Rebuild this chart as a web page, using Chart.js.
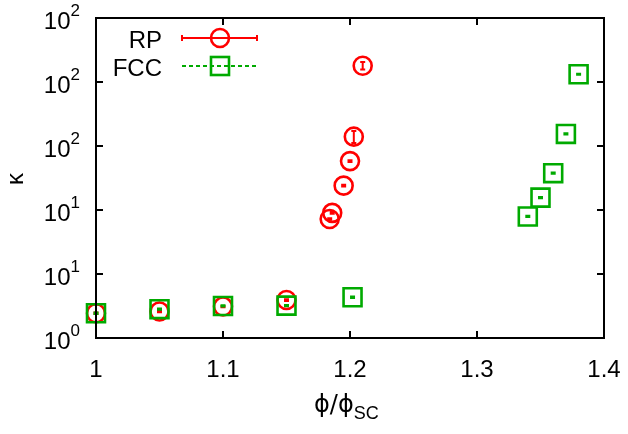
<!DOCTYPE html>
<html>
<head>
<meta charset="utf-8">
<script src="https://cdn.jsdelivr.net/npm/chart.js@4.4.0/dist/chart.umd.min.js"></script>
<style>
  html, body { margin: 0; padding: 0; background: #ffffff; }
  #wrap { width: 628px; height: 434px; }
</style>
</head>
<body>
<div id="wrap"><canvas id="chart" width="628" height="434"></canvas></div>
<script>
// RP data
const rpX = [1.0, 1.05, 1.1, 1.15, 1.184, 1.186, 1.195, 1.2, 1.203, 1.21];
const rpY = [1.56, 1.61, 1.76, 1.98, 8.5, 9.5, 15.5, 24.1, 37.4, 134];
const rpErr = [0.02, 0.02, 0.02, 0.03, 0.12, 0.15, 0.25, 0.4, 4, 9];

// FCC data
const fccX = [1.0, 1.05, 1.1, 1.15, 1.202, 1.34, 1.35, 1.36, 1.37, 1.38];
const fccY = [1.56, 1.68, 1.78, 1.79, 2.08, 8.9, 12.5, 19.4, 39.3, 115];
const fccErr = [0.02, 0.02, 0.02, 0.02, 0.03, 0.1, 0.15, 0.2, 0.4, 1.2];

// axes
const xTicks = [1, 1.1, 1.2, 1.3, 1.4];
const xTickLabels = ['1', '1.1', '1.2', '1.3', '1.4'];
const yTicks = [1, 3.1623, 10, 31.623, 100, 316.23];
const yTickExp = ['0', '1', '1', '2', '2', '2'];

const RED = '#ff0000';
const GREEN = '#00aa00';
const FONT = '"Liberation Sans", Arial, sans-serif';

function toPoints(xs, ys) {
  return xs.map((x, i) => ({ x: x, y: ys[i] }));
}

const errs = [rpErr, fccErr];
const colors = [RED, GREEN];

// error bars, frame, ticks, labels and legend
const gnuplotLook = {
  id: 'gnuplotLook',
  afterDatasetDraw(chart, args) {
    const ctx = chart.ctx;
    const xs = chart.scales.x, ys = chart.scales.y;
    const ds = chart.data.datasets[args.index];
    const err = errs[args.index];
    ctx.save();
    ctx.strokeStyle = colors[args.index];
    ctx.lineWidth = 2;
    ds.data.forEach((p, i) => {
      const px = xs.getPixelForValue(p.x);
      const y1 = ys.getPixelForValue(p.y - err[i]);
      const y2 = ys.getPixelForValue(p.y + err[i]);
      ctx.beginPath();
      ctx.moveTo(px, y1); ctx.lineTo(px, y2);
      ctx.moveTo(px - 2.5, y1); ctx.lineTo(px + 2.5, y1);
      ctx.moveTo(px - 2.5, y2); ctx.lineTo(px + 2.5, y2);
      ctx.stroke();
    });
    ctx.restore();
  },
  afterDraw(chart) {
    const ctx = chart.ctx;
    const a = chart.chartArea;
    const xs = chart.scales.x, ys = chart.scales.y;
    ctx.save();
    ctx.strokeStyle = '#000';
    ctx.lineWidth = 2;
    ctx.strokeRect(a.left, a.top, a.right - a.left, a.bottom - a.top);

    // ticks, mirrored on all sides
    const tl = 7;
    ctx.beginPath();
    xTicks.forEach(v => {
      const px = xs.getPixelForValue(v);
      ctx.moveTo(px, a.bottom); ctx.lineTo(px, a.bottom - tl);
      ctx.moveTo(px, a.top); ctx.lineTo(px, a.top + tl);
    });
    yTicks.forEach(v => {
      const py = ys.getPixelForValue(v);
      ctx.moveTo(a.left, py); ctx.lineTo(a.left + tl, py);
      ctx.moveTo(a.right, py); ctx.lineTo(a.right - tl, py);
    });
    ctx.stroke();

    ctx.fillStyle = '#000';
    // x tick labels
    ctx.font = '24px ' + FONT;
    ctx.textAlign = 'center';
    ctx.textBaseline = 'alphabetic';
    xTicks.forEach((v, i) => {
      ctx.fillText(xTickLabels[i], xs.getPixelForValue(v), 377);
    });

    // y tick labels 10^n
    yTicks.forEach((v, i) => {
      const py = ys.getPixelForValue(v);
      ctx.font = '17px ' + FONT;
      const ew = ctx.measureText(yTickExp[i]).width;
      ctx.textAlign = 'left';
      ctx.fillText(yTickExp[i], 80 - ew, py - 2);
      ctx.font = '24px ' + FONT;
      ctx.textAlign = 'right';
      ctx.fillText('10', 80 - ew, py + 11);
    });

    // axis titles
    ctx.font = '24px "DejaVu Sans", ' + FONT;
    ctx.textAlign = 'left';
    const t1 = 'ϕ/ϕ';
    const w1 = ctx.measureText(t1).width;
    ctx.fillText(t1, 314, 412);
    ctx.font = '18px ' + FONT;
    ctx.fillText('SC', 314 + w1, 419);

    ctx.save();
    ctx.translate(23, 179);
    ctx.rotate(-Math.PI / 2);
    ctx.font = '24px ' + FONT;
    ctx.textAlign = 'center';
    ctx.textBaseline = 'alphabetic';
    ctx.fillText('κ', 0, 0);
    ctx.restore();

    // legend
    ctx.font = '24px ' + FONT;
    ctx.textAlign = 'right';
    ctx.fillText(chart.data.datasets[0].label, 162, 48);
    ctx.fillText(chart.data.datasets[1].label, 162, 76);

    ctx.lineWidth = 2;
    ctx.strokeStyle = RED;
    ctx.beginPath();
    ctx.moveTo(182, 38); ctx.lineTo(257, 38);
    ctx.moveTo(182, 35); ctx.lineTo(182, 41);
    ctx.moveTo(257, 35); ctx.lineTo(257, 41);
    ctx.stroke();
    ctx.lineWidth = 2.6;
    ctx.beginPath();
    ctx.arc(220, 38, 9, 0, Math.PI * 2);
    ctx.stroke();

    ctx.strokeStyle = GREEN;
    ctx.lineWidth = 2;
    ctx.setLineDash([4, 3]);
    ctx.beginPath();
    ctx.moveTo(182, 66); ctx.lineTo(257, 66);
    ctx.stroke();
    ctx.setLineDash([]);
    ctx.lineWidth = 2.6;
    ctx.strokeRect(211, 57, 18, 18);
    ctx.restore();
  }
};

new Chart(document.getElementById('chart'), {
  type: 'scatter',
  data: {
    datasets: [
      {
        label: 'RP',
        data: toPoints(rpX, rpY),
        order: 1,
        clip: false,
        showLine: false,
        pointStyle: 'circle',
        pointRadius: 9,
        pointBorderWidth: 2.6,
        borderColor: RED,
        backgroundColor: 'rgba(0,0,0,0)',
        pointBackgroundColor: 'rgba(0,0,0,0)'
      },
      {
        label: 'FCC',
        data: toPoints(fccX, fccY),
        order: 0,
        clip: false,
        showLine: false,
        pointStyle: 'rect',
        pointRadius: 12.7,
        pointBorderWidth: 2.6,
        borderColor: GREEN,
        backgroundColor: 'rgba(0,0,0,0)',
        pointBackgroundColor: 'rgba(0,0,0,0)'
      }
    ]
  },
  options: {
    responsive: false,
    animation: false,
    events: [],
    layout: { padding: { left: 0, top: 18, right: 24, bottom: 0 } },
    plugins: { legend: { display: false }, tooltip: { enabled: false } },
    scales: {
      x: {
        type: 'linear',
        min: 1, max: 1.4,
        grid: { display: false },
        border: { display: false },
        ticks: { display: false },
        afterFit: s => { s.height = 96; }
      },
      y: {
        type: 'logarithmic',
        min: 1, max: 316.228,
        grid: { display: false },
        border: { display: false },
        ticks: { display: false },
        afterFit: s => { s.width = 96; }
      }
    }
  },
  plugins: [gnuplotLook]
});
</script>
</body>
</html>
